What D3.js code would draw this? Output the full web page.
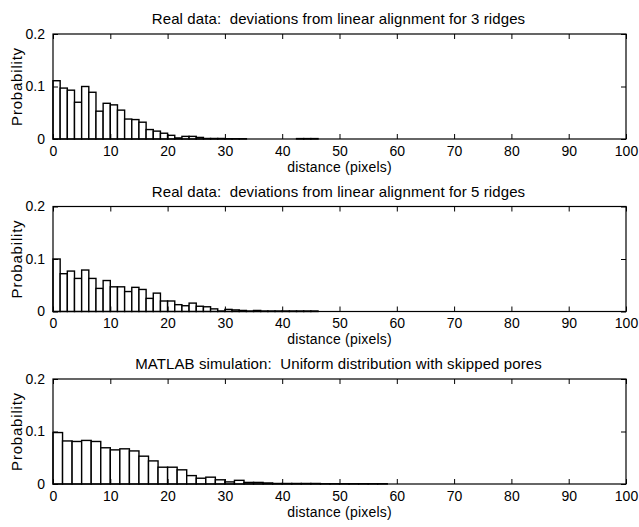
<!DOCTYPE html>
<html>
<head>
<meta charset="utf-8">
<script src="https://cdn.jsdelivr.net/npm/d3@7"></script>
<style>
  body { margin: 0; background: #fff; }
  svg { display: block; font-family: "Liberation Sans", Arial, Helvetica, sans-serif; }
</style>
</head>
<body>
<svg id="chart"></svg>
<script>
// panel titles
const titles = [
  "Real data:  deviations from linear alignment for 3 ridges",
  "Real data:  deviations from linear alignment for 5 ridges",
  "MATLAB simulation:  Uniform distribution with skipped pores"
];

// histogram probabilities per bin, starting at distance 0
const ridges3 = [
  0.111, 0.097, 0.093, 0.070, 0.100, 0.089, 0.053, 0.068, 0.065, 0.055,
  0.038, 0.037, 0.032, 0.018, 0.015, 0.011, 0.007, 0.002, 0.005, 0.005,
  0.003, 0.001, 0.001, 0.001, 0.0005, 0.0005, 0.0005, 0, 0, 0,
  0, 0, 0, 0, 0.0008, 0.0008, 0.0008
];
const ridges5 = [
  0.100, 0.072, 0.077, 0.063, 0.079, 0.063, 0.044, 0.059, 0.047, 0.047,
  0.038, 0.046, 0.042, 0.025, 0.035, 0.020, 0.020, 0.013, 0.011, 0.016,
  0.010, 0.009, 0.005, 0.001, 0.004, 0.003, 0.002, 0.001, 0.002, 0.001,
  0.001, 0.001, 0.001, 0.001, 0.001, 0.001, 0.001
];
const simulation = [
  0.098, 0.082, 0.081, 0.083, 0.081, 0.069, 0.065, 0.067, 0.063, 0.053,
  0.044, 0.032, 0.032, 0.027, 0.016, 0.011, 0.013, 0.008, 0.004, 0.007,
  0.003, 0.003, 0.002, 0.001, 0.001, 0.001, 0.001, 0.001, 0.0005, 0.0005,
  0.0005, 0.0005, 0.0005, 0.0005, 0.0005
];

const binWidths = [1.25, 1.25, 100 / 60];
const series = [ridges3, ridges5, simulation];

const xTicks = [0, 10, 20, 30, 40, 50, 60, 70, 80, 90, 100];
const yTicks = [0, 0.1, 0.2];
const yTickLabels = ["0", "0.1", "0.2"];
const xLabel = "distance (pixels)";
const yLabel = "Probability";

const W = 639, H = 527;
const left = 53, right = 626, panelH = 105;
const tops = [34, 206.5, 379];

const svg = d3.select("#chart").attr("width", W).attr("height", H);
svg.append("rect").attr("width", W).attr("height", H).attr("fill", "#fff");

const x = d3.scaleLinear().domain([0, 100]).range([left, right]);

series.forEach((vals, p) => {
  const top = tops[p];
  const bottom = top + panelH;
  const y = d3.scaleLinear().domain([0, 0.2]).range([bottom, top]);
  const bw = binWidths[p];
  const g = svg.append("g");

  g.selectAll("rect.bar")
    .data(vals)
    .enter()
    .append("rect")
    .attr("class", "bar")
    .attr("x", (d, i) => x(i * bw))
    .attr("width", (d, i) => x((i + 1) * bw) - x(i * bw))
    .attr("y", (d) => y(d))
    .attr("height", (d) => bottom - y(d))
    .attr("fill", "#fff")
    .attr("stroke", "#000")
    .attr("stroke-width", 1.4);

  // box
  g.append("rect")
    .attr("x", left)
    .attr("y", top)
    .attr("width", right - left)
    .attr("height", panelH)
    .attr("fill", "none")
    .attr("stroke", "#000")
    .attr("stroke-width", 1.2);

  // inward ticks, bottom and top
  const xAxis = d3.axisBottom(x).tickValues(xTicks).tickSize(-5).tickPadding(7).tickFormat(d3.format("d"));
  const gx = g.append("g").attr("transform", `translate(0,${bottom})`).call(xAxis);
  gx.select(".domain").remove();
  gx.selectAll("text").attr("font-size", "14px").attr("fill", "#000")
    .attr("font-family", "Liberation Sans, Arial, sans-serif");

  const gxt = g.append("g").attr("transform", `translate(0,${top})`)
    .call(d3.axisTop(x).tickValues(xTicks).tickSize(-5).tickFormat(""));
  gxt.select(".domain").remove();

  const yAxis = d3.axisLeft(y).tickValues(yTicks).tickSize(-5).tickPadding(8)
    .tickFormat((d, i) => yTickLabels[i]);
  const gy = g.append("g").attr("transform", `translate(${left},0)`).call(yAxis);
  gy.select(".domain").remove();
  gy.selectAll("text").attr("font-size", "14px").attr("fill", "#000")
    .attr("font-family", "Liberation Sans, Arial, sans-serif");

  const gyr = g.append("g").attr("transform", `translate(${right},0)`)
    .call(d3.axisRight(y).tickValues(yTicks).tickSize(-5).tickFormat(""));
  gyr.select(".domain").remove();

  g.selectAll(".tick line").attr("stroke", "#000");

  g.append("text")
    .attr("x", (left + right) / 2 - 1)
    .attr("y", top - 10)
    .attr("text-anchor", "middle")
    .attr("font-size", "15px")
    .attr("letter-spacing", "0.1px")
    .style("white-space", "pre")
    .text(titles[p]);

  g.append("text")
    .attr("x", (left + right) / 2)
    .attr("y", bottom + 32.5)
    .attr("text-anchor", "middle")
    .attr("font-size", "14px")
    .attr("letter-spacing", "0.2px")
    .text(xLabel);

  g.append("text")
    .attr("transform", `translate(22,${(top + bottom) / 2}) rotate(-90)`)
    .attr("text-anchor", "middle")
    .attr("font-size", "15px")
    .attr("letter-spacing", "0.8px")
    .text(yLabel);
});
</script>
</body>
</html>
